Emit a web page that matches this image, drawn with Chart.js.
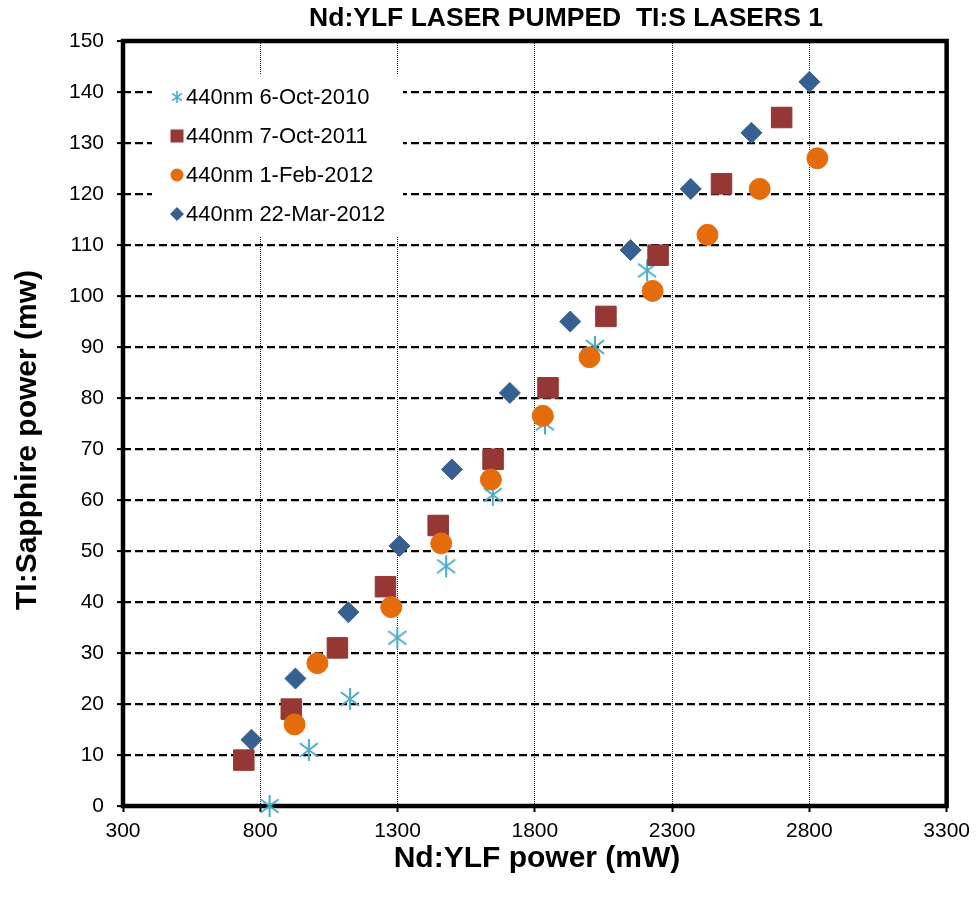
<!DOCTYPE html>
<html>
<head>
<meta charset="utf-8">
<script src="https://cdn.jsdelivr.net/npm/chart.js"></script>
<style>
html, body { margin: 0; padding: 0; background: #fff; }
</style>
</head>
<body>
<canvas id="myChart" width="977" height="907"></canvas>
<script>
// values
var xTicks = [300, 800, 1300, 1800, 2300, 2800, 3300];
var yTicks = [0, 10, 20, 30, 40, 50, 60, 70, 80, 90, 100, 110, 120, 130, 140, 150];

var seriesNames = ["440nm 6-Oct-2010", "440nm 7-Oct-2011", "440nm 1-Feb-2012", "440nm 22-Mar-2012"];
var seriesColors = ["#4BACC6", "#953735", "#E46C0A", "#376092"];

var oct2010X = [834, 977, 1127, 1299, 1477, 1647, 1837, 2019, 2209];
var oct2010Y = [0, 11, 21, 33, 47, 61, 75, 90, 105];
var oct2011X = [740, 913, 1081, 1256, 1448, 1648, 1848, 2059, 2249, 2480, 2699];
var oct2011Y = [9, 19, 31, 43, 55, 68, 82, 96, 108, 122, 135];
var feb2012X = [925, 1008, 1277, 1459, 1640, 1829, 1999, 2229, 2429, 2619, 2829];
var feb2012Y = [16, 28, 39, 51.5, 64, 76.5, 88, 101, 112, 121, 127];
var mar2012X = [768, 928, 1121, 1307, 1498, 1709, 1929, 2149, 2368, 2589, 2800];
var mar2012Y = [13, 25, 38, 51, 66, 81, 95, 109, 121, 132, 142];

var FONT = "'Liberation Sans', Arial, sans-serif";

function pairs(xs, ys) {
    return xs.map(function (x, i) { return {x: x, y: ys[i]}; });
}

// excel style star: vertical bar plus an X
function makeStar(size, color, lw) {
    var c = document.createElement('canvas');
    c.width = size; c.height = size;
    var g = c.getContext('2d');
    var m = size / 2, r = size / 2 - 1, d = r * 0.82;
    g.strokeStyle = color;
    g.lineWidth = lw;
    g.beginPath();
    g.moveTo(m, m - r); g.lineTo(m, m + r);
    g.moveTo(m - d, m - d * 0.75); g.lineTo(m + d, m + d * 0.75);
    g.moveTo(m + d, m - d * 0.75); g.lineTo(m - d, m + d * 0.75);
    g.stroke();
    return c;
}

var bigStar = makeStar(24, seriesColors[0], 2);
var smallStar = makeStar(14, seriesColors[0], 1.6);

function drawMarker(g, idx, x, y) {
    var col = seriesColors[idx];
    g.fillStyle = col;
    g.beginPath();
    if (idx == 0) {
        g.drawImage(smallStar, x - 7, y - 7);
        return;
    } else if (idx == 1) {
        g.rect(x - 6.5, y - 6.5, 13, 13);
    } else if (idx == 2) {
        g.arc(x, y, 6.5, 0, Math.PI * 2);
    } else {
        g.moveTo(x, y - 7); g.lineTo(x + 7, y); g.lineTo(x, y + 7); g.lineTo(x - 7, y);
        g.closePath();
    }
    g.fill();
}

var framePlugin = {
    id: 'frame',
    beforeDatasetsDraw: function (chart) {
        var a = chart.chartArea, g = chart.ctx;
        g.save();
        g.strokeStyle = '#000';
        g.lineWidth = 4.5;
        g.strokeRect(a.left, a.top, a.right - a.left, a.bottom - a.top);
        g.restore();
    },
    afterDraw: function (chart) {
        var g = chart.ctx;
        g.save();
        // legend box
        g.fillStyle = '#fff';
        g.fillRect(152, 75, 251, 162);
        var ly = [97, 136, 175, 214];
        g.font = "22px " + FONT;
        g.textBaseline = 'middle';
        g.textAlign = 'left';
        for (var i = 0; i < seriesNames.length; i++) {
            drawMarker(g, i, 177, ly[i]);
            g.fillStyle = '#000';
            g.fillText(seriesNames[i], 186, ly[i] + 1);
        }
        // chart title
        g.font = "bold 26.5px " + FONT;
        g.textAlign = 'center';
        g.fillText("Nd:YLF LASER PUMPED  TI:S LASERS 1", 566, 19);
        // axis titles
        g.font = "bold 30px " + FONT;
        g.fillText("Nd:YLF power (mW)", 537, 859);
        g.translate(28, 440);
        g.rotate(-Math.PI / 2);
        g.fillText("TI:Sapphire power (mw)", 0, 0);
        g.restore();
    }
};

var ctx = document.getElementById('myChart').getContext('2d');
var chart = new Chart(ctx, {
    type: 'scatter',
    data: {
        datasets: [{
            label: seriesNames[0],
            data: pairs(oct2010X, oct2010Y),
            pointStyle: bigStar,
            order: 4
        }, {
            label: seriesNames[1],
            data: pairs(oct2011X, oct2011Y),
            pointStyle: 'rect',
            pointRadius: 14.5,
            backgroundColor: seriesColors[1],
            borderColor: seriesColors[1],
            order: 3
        }, {
            label: seriesNames[2],
            data: pairs(feb2012X, feb2012Y),
            pointStyle: 'circle',
            pointRadius: 10.5,
            backgroundColor: seriesColors[2],
            borderColor: seriesColors[2],
            order: 2
        }, {
            label: seriesNames[3],
            data: pairs(mar2012X, mar2012Y),
            pointStyle: 'rectRot',
            pointRadius: 10.5,
            backgroundColor: seriesColors[3],
            borderColor: seriesColors[3],
            order: 1
        }]
    },
    options: {
        responsive: false,
        animation: false,
        clip: false,
        elements: { point: { borderWidth: 1, hoverRadius: 0 } },
        layout: { padding: { top: 41, right: 29, left: 0, bottom: 0 } },
        plugins: {
            legend: { display: false },
            title: { display: false },
            tooltip: { enabled: false }
        },
        scales: {
            x: {
                type: 'linear',
                min: xTicks[0],
                max: xTicks[xTicks.length - 1],
                afterFit: function (s) { s.height = 101; },
                afterBuildTicks: function (s) { s.ticks = xTicks.map(function (v) { return {value: v}; }); },
                ticks: {
                    color: '#000',
                    font: { family: FONT, size: 21 },
                    padding: 7,
                    maxRotation: 0,
                    callback: function (v) { return String(v); }
                },
                grid: {
                    color: '#222',
                    lineWidth: 1,
                    drawTicks: true,
                    tickLength: 6,
                    tickColor: '#000',
                    tickWidth: 2,
                    tickBorderDash: []
                },
                border: { display: false, dash: [1, 1] }
            },
            y: {
                type: 'linear',
                min: yTicks[0],
                max: yTicks[yTicks.length - 1],
                afterFit: function (s) { s.width = 123; },
                afterBuildTicks: function (s) { s.ticks = yTicks.map(function (v) { return {value: v}; }); },
                ticks: {
                    color: '#000',
                    font: { family: FONT, size: 21 },
                    padding: 13,
                    callback: function (v) { return String(v); }
                },
                grid: {
                    color: '#000',
                    lineWidth: 2.2,
                    drawTicks: true,
                    tickLength: 6,
                    tickColor: '#000',
                    tickWidth: 2,
                    tickBorderDash: []
                },
                border: { display: false, dash: [8, 4] }
            }
        }
    },
    plugins: [framePlugin]
});
</script>
</body>
</html>
